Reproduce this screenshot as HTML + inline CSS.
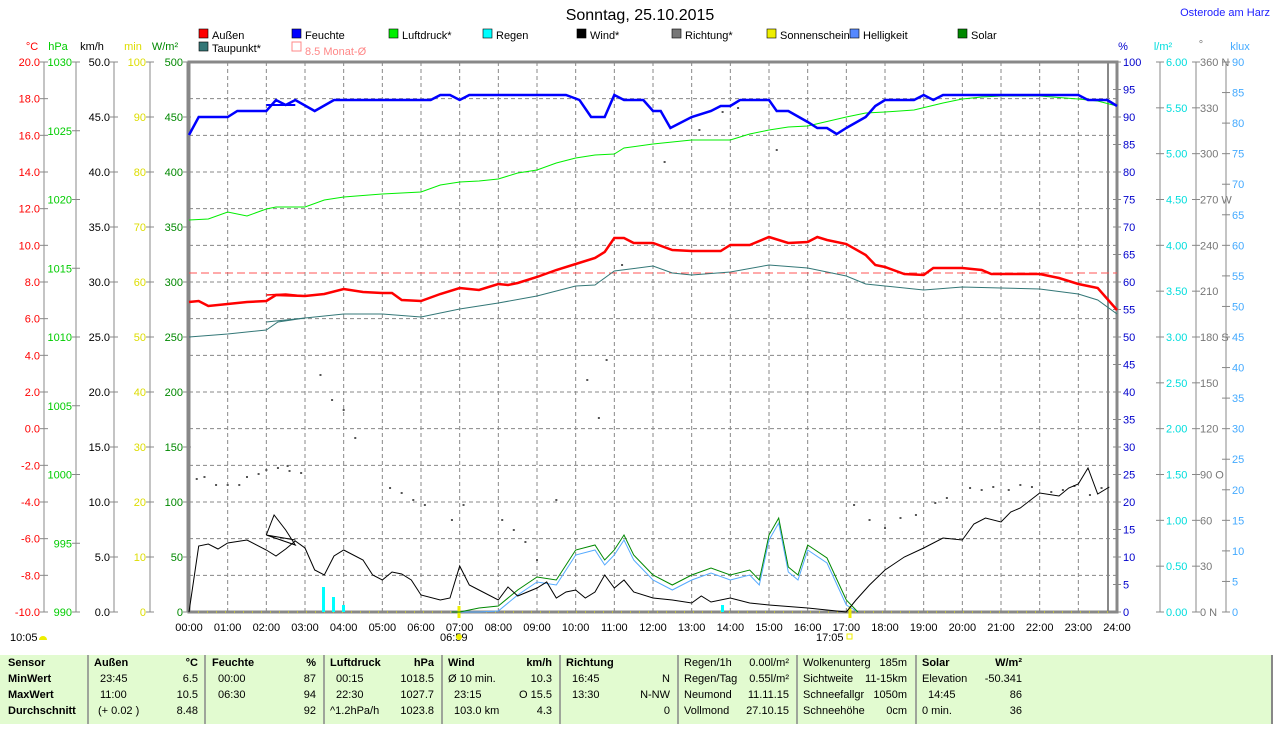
<!DOCTYPE html>
<html><head><meta charset="utf-8"><style>
body{margin:0;background:#fff;width:1274px;height:724px;overflow:hidden;font-family:"Liberation Sans",sans-serif}
svg text{font-family:"Liberation Sans",sans-serif;font-size:11px}
</style></head><body>
<svg id="s" width="1274" height="724" xmlns="http://www.w3.org/2000/svg">
<rect x="0" y="655" width="1272" height="69" fill="#e2fbd0"/>
<line x1="1272" y1="655" x2="1272" y2="724" stroke="#888" stroke-width="2"/>
<text x="640" y="20" text-anchor="middle" style="font-size:16px">Sonntag, 25.10.2015</text>
<text x="1270" y="16" text-anchor="end" fill="#2020ff">Osterode am Harz</text>
<g id="g"></g>
</svg>
<script>
const S=document.getElementById('g');let h='';
const X=t=>189+38.667*t, P=a=>a.map(p=>X(p[0]).toFixed(1)+','+p[1]).join(' ');
function pl(a,c,w,extra){h+=`<polyline points="${P(a)}" fill="none" stroke="${c}" stroke-width="${w}" ${extra||''}/>`;}
function tx(x,y,s,c,a,st){h+=`<text x="${x}" y="${y}" fill="${c||'#000'}" text-anchor="${a||'start'}" ${st?`style="${st}"`:''}>${s}</text>`;}
for(let i=1;i<24;i++){h+=`<line x1="${X(i)}" y1="62" x2="${X(i)}" y2="612" stroke="#888" stroke-dasharray="4,3"/>`;}
for(let i=1;i<15;i++){let y=62+i*36.667;h+=`<line x1="189" y1="${y}" x2="1117" y2="${y}" stroke="#888" stroke-dasharray="4,3"/>`;}
h+=`<rect x="189" y="62" width="928" height="550" fill="none" stroke="#888" stroke-width="3"/>`;
h+=`<line x1="1108" y1="62" x2="1108" y2="612" stroke="#888" stroke-width="2"/>`;
h+=`<line x1="189" y1="612" x2="1117" y2="612" stroke="#ee0" stroke-width="1" stroke-dasharray="1,8"/>`;
function axis(xl,xt,n,y0,step,fmt,c){h+=`<line x1="${xt}" y1="62" x2="${xt}" y2="612" stroke="#888"/>`;
 for(let i=0;i<=n;i++){let y=612-i*550/n;h+=`<line x1="${xt-4}" y1="${y}" x2="${xt+4}" y2="${y}" stroke="#888"/>`;tx(xl,y+4,fmt(y0+i*step),c,'end');}}
axis(40,44,15,-10,2,v=>v.toFixed(1),'#f00');
axis(72,76,8,990,5,v=>v,'#0c0');
axis(110,114,10,0,5,v=>v.toFixed(1),'#000');
axis(146,150,10,0,10,v=>v,'#dd0');
axis(183,187,10,0,50,v=>v,'#080');
tx(32,50,'°C','#f00','middle');tx(58,50,'hPa','#0c0','middle');tx(92,50,'km/h','#000','middle');tx(133,50,'min','#dd0','middle');tx(165,50,'W/m²','#080','middle');
function raxis(xt,xl,n,y0,step,fmt,c){h+=`<line x1="${xt}" y1="62" x2="${xt}" y2="612" stroke="#888"/>`;
 for(let i=0;i<=n;i++){let y=612-i*550/n;h+=`<line x1="${xt-4}" y1="${y}" x2="${xt+4}" y2="${y}" stroke="#888"/>`;tx(xl,y+4,fmt(y0+i*step,i),c);}}
raxis(1117,1123,20,0,5,v=>v,'#00c');
raxis(1160,1166,12,0,0.5,v=>v.toFixed(2),'#0dd');
const dir={0:' N',3:' O',6:' S',9:' W',12:' N'};
raxis(1196,1200,12,0,30,(v,i)=>v+(dir[i]||''),'#777');
raxis(1226,1232,18,0,5,v=>v,'#4af');
tx(1123,50,'%','#00c','middle');tx(1163,50,'l/m²','#0dd','middle');tx(1201,48,'°','#777','middle');tx(1240,50,'klux','#4af','middle');
for(let i=0;i<=24;i++)tx(X(i),631,(i<10?'0':'')+i+':00','#000','middle');
tx(440,641,'06:59');h+=`<circle cx="459" cy="637" r="3" fill="#ee0"/>`;
tx(816,641,'17:05');h+=`<rect x="847" y="634" width="5" height="5" fill="none" stroke="#ee0"/>`;
tx(10,641,'10:05');h+=`<path d="M39 640 a4 4 0 0 1 8 0z" fill="#ee0"/>`;
h+=`<line x1="459" y1="606" x2="459" y2="618" stroke="#ee0" stroke-width="3"/><line x1="850" y1="606" x2="850" y2="618" stroke="#ee0" stroke-width="3"/>`;
const L=[[199,38,'#f00','Außen'],[292,38,'#00f','Feuchte'],[389,38,'#0e0','Luftdruck*'],[483,38,'#0ff','Regen'],[577,38,'#000','Wind*'],[672,38,'#777','Richtung*'],[767,38,'#ee0','Sonnenschein'],[850,38,'#58f','Helligkeit'],[958,38,'#080','Solar'],[199,51,'#377','Taupunkt*']];
L.forEach(l=>{h+=`<rect x="${l[0]}" y="${l[1]-9}" width="9" height="9" fill="${l[2]}" stroke="#000" stroke-width="0.6"/>`;tx(l[0]+13,l[1]+1,l[3]);});
h+=`<rect x="292" y="42" width="9" height="9" fill="none" stroke="#f88"/>`;tx(305,55,'8.5 Monat-Ø','#f88');
h+=`<line x1="189" y1="273" x2="1117" y2="273" stroke="#f55" stroke-dasharray="8,4"/>`;
const dots=[[.2,479],[.4,477],[.7,485],[1,485],[1.3,485],[1.5,477],[1.8,474],[2,470],[2.3,468],[2.55,466],[2.6,471],[2.9,473],[3.4,375],[3.7,400],[4,410],[4.3,438],[5.2,488],[5.5,493],[5.8,500],[6.1,505],[6.8,520],[7.1,505],[8.1,520],[8.4,530],[8.7,542],[9,560],[9.5,500],[10.3,380],[10.6,418],[10.8,360],[11.2,265],[12.3,162],[13.2,130],[13.8,112],[14.2,108],[15.2,150],[17.2,505],[17.6,520],[18,528],[18.4,518],[18.8,515],[19.3,503],[19.6,498],[20.2,488],[20.5,490],[20.8,487],[21.2,490],[21.5,485],[21.8,487],[22.3,492],[22.6,490],[22.9,486],[23.3,495],[23.6,488]];
dots.forEach(d=>h+=`<rect x="${X(d[0])-1}" y="${d[1]-1}" width="2" height="2" fill="#555"/>`);
[[323,587],[333,597],[343,605],[722,605]].forEach(r=>h+=`<rect x="${r[0]-1}" y="${r[1]}" width="3" height="${612-r[1]}" fill="#0ff"/>`);
const hum=[[0,135],[.25,117],[1,117],[1.25,111],[2,111],[2.25,100],[2.5,105],[2.75,100],[3.25,111],[3.75,100],[6.25,100],[6.5,95],[6.75,95],[7,100],[7.25,95],[9.75,95],[10.1,100],[10.4,117],[10.75,117],[11,95],[11.25,100],[11.75,100],[12,111],[12.2,111],[12.45,128],[13,117],[13.5,111],[13.75,106],[14,106],[14.25,100],[15,100],[15.2,111],[15.5,111],[16,122],[16.25,128],[16.5,128],[16.75,134],[17,128],[17.5,117],[17.75,106],[18,100],[18.75,100],[19,95],[19.25,100],[19.5,95],[23,95],[23.25,100],[23.75,100],[24,106]];
const pr=[[0,220],[.5,219],[1,212],[1.5,216],[2,209],[2.25,207],[3,207],[3.5,200],[4,197],[5,194],[6,192],[6.5,185],[7,182],[7.5,181],[8,179],[8.5,173],[9,170],[9.5,163],[10,158],[10.5,155],[11,154],[11.25,148],[12,144],[13,140],[14,140],[14.5,134],[15,130],[15.5,127],[16,126],[17,117],[17.5,113],[18,112],[18.75,110],[19.5,103],[20,99],[20.5,97],[21,96],[22,96],[23,99],[23.5,101],[24,106]];
const tp=[[0,337],[1,334],[2,330],[2.3,322],[3,318],[4,314],[5,314],[6,317],[7,309],[8,303],[9,296],[10,286],[10.5,285],[11,271],[12,266],[12.5,273],[13,275],[14,272],[15,265],[16,268],[17,276],[17.5,284],[18,286],[19,290],[20,287],[21,288],[22,289],[23,294],[23.5,300],[24,314]];
const tm=[[0,302],[.25,301],[.5,306],[1,304],[1.5,302],[2,301],[2.25,295],[3,296],[3.5,294],[4,289],[4.5,292],[5,293],[5.25,293],[5.5,300],[6,301],[6.5,294],[7,288],[7.5,290],[8,284],[8.25,285],[8.5,283],[9,277],[9.5,270],[10,264],[10.5,258],[10.75,252],[11,238],[11.25,238],[11.5,243],[12,243],[12.5,250],[13,251],[13.75,251],[14,245],[14.5,245],[15,237],[15.5,243],[16,242],[16.25,237],[16.5,240],[17,244],[17.5,255],[17.75,265],[18,267],[18.5,274],[19,275],[19.25,268],[20,268],[20.5,270],[20.75,274],[22,274],[22.5,278],[23,284],[23.5,288],[24,310]];
const sol=[[6.8,612],[7,612],[7.5,608],[8,606],[8.5,590],[9,577],[9.5,580],[9.75,565],[10,550],[10.5,545],[10.75,560],[11,550],[11.25,535],[11.5,555],[12,575],[12.5,585],[13,575],[13.5,568],[14,575],[14.5,570],[14.75,580],[15,535],[15.25,518],[15.5,567],[15.75,575],[16,545],[16.5,558],[17,600],[17.3,612]];
const wind=[[0,612],[.25,546],[.5,544],[.75,549],[1,543],[1.5,540],[2,550],[2.25,556],[2.5,549],[2.75,541],[3,548],[3.25,570],[3.5,575],[3.75,556],[4,550],[4.5,560],[4.75,575],[5,580],[5.25,572],[5.5,574],[5.75,580],[6,595],[6.5,600],[6.75,598],[7,566],[7.25,585],[7.5,590],[8,600],[8.25,587],[8.5,596],[9,588],[9.25,582],[9.5,598],[9.75,592],[10,590],[10.25,598],[10.5,592],[10.75,575],[11,588],[11.25,580],[11.5,592],[12,598],[12.5,600],[13,603],[13.25,596],[13.5,602],[14,598],[14.5,603],[15,605],[16,608],[16.5,610],[17,612],[17.25,600],[17.6,585],[18,570],[18.5,557],[19,548],[19.5,538],[20,540],[20.3,524],[20.6,518],[21,522],[21.25,512],[21.5,508],[22,493],[22.5,496],[22.75,488],[23,484],[23.25,468],[23.5,494],[23.8,487]];
pl(sol.map(p=>[p[0],Math.min(612,p[1]+5)]),'#5af',1);
pl(sol,'#080',1);
pl(wind,'#000',1);
pl([[2,535],[2.2,515],[2.5,530],[2.75,545],[2,535],[2.75,540]],'#000',1);
pl(pr,'#0e0',1);
pl(tp,'#377',1);pl([[2,322],[2.5,320],[3,318]],'#377',1);
pl(tm,'#f00',2.5);pl([[2,295],[2.5,294],[3,296]],'#f00',1.5);
pl(hum,'#00f',2.5);pl([[2,105],[2.75,105]],'#00f',2);
[88,205,324,442,560,678,797,916].forEach(x=>h+=`<line x1="${x}" y1="655" x2="${x}" y2="724" stroke="#888" stroke-width="1.5"/>`);
const B='font-weight:bold';
const rows=[666,682,698,714];
tx(8,rows[0],'Sensor','#000','start',B);tx(8,rows[1],'MinWert','#000','start',B);tx(8,rows[2],'MaxWert','#000','start',B);tx(8,rows[3],'Durchschnitt','#000','start',B);
tx(94,rows[0],'Außen','#000','start',B);tx(198,rows[0],'°C','#000','end',B);
tx(100,rows[1],'23:45');tx(198,rows[1],'6.5','#000','end');tx(100,rows[2],'11:00');tx(198,rows[2],'10.5','#000','end');tx(98,rows[3],'(+ 0.02 )');tx(198,rows[3],'8.48','#000','end');
tx(212,rows[0],'Feuchte','#000','start',B);tx(316,rows[0],'%','#000','end',B);
tx(218,rows[1],'00:00');tx(316,rows[1],'87','#000','end');tx(218,rows[2],'06:30');tx(316,rows[2],'94','#000','end');tx(316,rows[3],'92','#000','end');
tx(330,rows[0],'Luftdruck','#000','start',B);tx(434,rows[0],'hPa','#000','end',B);
tx(336,rows[1],'00:15');tx(434,rows[1],'1018.5','#000','end');tx(336,rows[2],'22:30');tx(434,rows[2],'1027.7','#000','end');tx(330,rows[3],'^1.2hPa/h');tx(434,rows[3],'1023.8','#000','end');
tx(448,rows[0],'Wind','#000','start',B);tx(552,rows[0],'km/h','#000','end',B);
tx(448,rows[1],'Ø 10 min.');tx(552,rows[1],'10.3','#000','end');tx(454,rows[2],'23:15');tx(552,rows[2],'O 15.5','#000','end');tx(454,rows[3],'103.0 km');tx(552,rows[3],'4.3','#000','end');
tx(566,rows[0],'Richtung','#000','start',B);tx(572,rows[1],'16:45');tx(572,rows[2],'13:30');
tx(670,rows[1],'N','#000','end');tx(670,rows[2],'N-NW','#000','end');tx(670,rows[3],'0','#000','end');
const c2=[['Regen/1h','0.00l/m²'],['Regen/Tag','0.55l/m²'],['Neumond','11.11.15'],['Vollmond','27.10.15']];
c2.forEach((r,i)=>{tx(684,rows[i],r[0]);tx(789,rows[i],r[1],'#000','end');});
const c3=[['Wolkenunterg','185m'],['Sichtweite','11-15km'],['Schneefallgr','1050m'],['Schneehöhe','0cm']];
c3.forEach((r,i)=>{tx(803,rows[i],r[0]);tx(907,rows[i],r[1],'#000','end');});
tx(922,rows[0],'Solar','#000','start',B);tx(1022,rows[0],'W/m²','#000','end',B);
tx(922,rows[1],'Elevation');tx(1022,rows[1],'-50.341','#000','end');tx(928,rows[2],'14:45');tx(1022,rows[2],'86','#000','end');tx(922,rows[3],'0 min.');tx(1022,rows[3],'36','#000','end');
S.innerHTML=h;
</script>
</body></html>
